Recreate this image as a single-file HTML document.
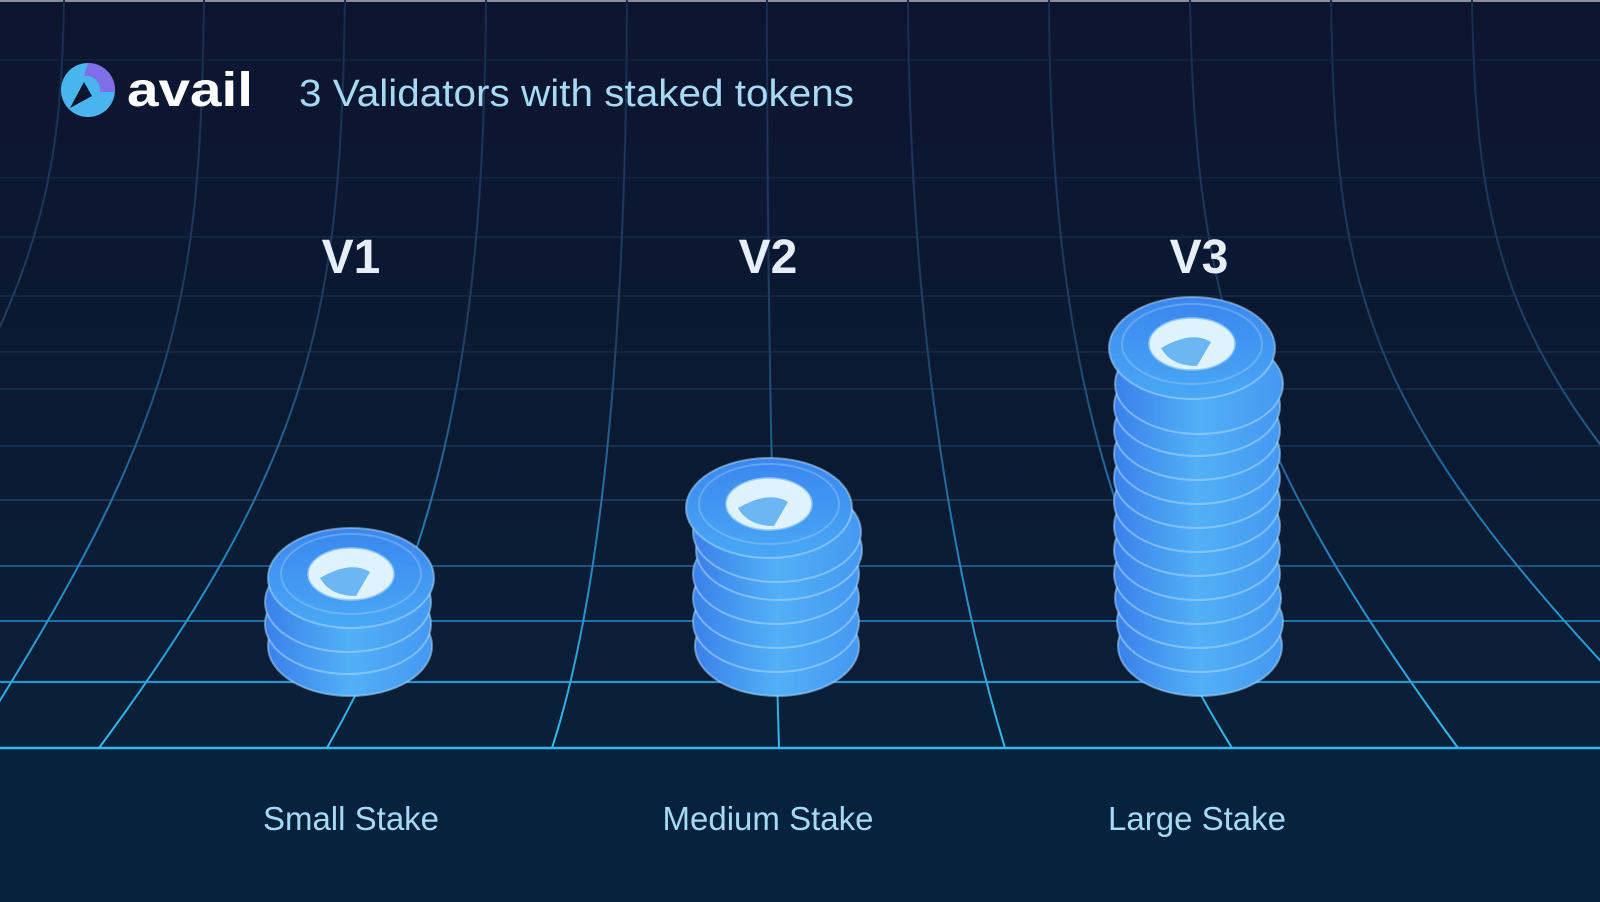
<!DOCTYPE html>
<html><head><meta charset="utf-8"><style>
html,body{margin:0;padding:0;background:#0c1630;}
svg{display:block}
</style></head><body>
<svg width="1600" height="902" viewBox="0 0 1600 902" xmlns="http://www.w3.org/2000/svg">
<defs>
<linearGradient id="bg" x1="0" y1="0" x2="0" y2="1">
<stop offset="0" stop-color="#0c1530"/><stop offset="0.5" stop-color="#0b1a33"/><stop offset="1" stop-color="#0a233d"/>
</linearGradient>
<linearGradient id="vl" gradientUnits="userSpaceOnUse" x1="0" y1="0" x2="0" y2="748">
<stop offset="0" stop-color="#1a2c48"/><stop offset="0.45" stop-color="#1d4166"/><stop offset="0.75" stop-color="#2384c0"/><stop offset="1" stop-color="#31bdf4"/>
</linearGradient>
<linearGradient id="side" x1="0" y1="0" x2="1" y2="0">
<stop offset="0" stop-color="#3a80ea"/><stop offset="0.5" stop-color="#52b0f6"/><stop offset="1" stop-color="#4598f2"/>
</linearGradient>
<linearGradient id="face" x1="0" y1="0" x2="0" y2="1">
<stop offset="0" stop-color="#3b86ee"/><stop offset="1" stop-color="#4aa8f5"/>
</linearGradient>
</defs>
<rect width="1600" height="902" fill="url(#bg)"/>
<rect y="748" width="1600" height="154" fill="#07223c"/>
<rect width="1600" height="2" fill="#8a8f99"/>
<g stroke-width="1.6" fill="none">
<line x1="0" y1="60" x2="1600" y2="60" stroke="#15233c"/>
<line x1="0" y1="178" x2="1600" y2="178" stroke="#152540"/>
<line x1="0" y1="237" x2="1600" y2="237" stroke="#162842"/>
<line x1="0" y1="296" x2="1600" y2="296" stroke="#172b46"/>
<line x1="0" y1="352" x2="1600" y2="352" stroke="#182e4a"/>
<line x1="0" y1="389" x2="1600" y2="389" stroke="#18304c"/>
<line x1="0" y1="446" x2="1600" y2="446" stroke="#1a3652"/>
<line x1="0" y1="500" x2="1600" y2="500" stroke="#1c4262"/>
<line x1="0" y1="566" x2="1600" y2="566" stroke="#1f5580" stroke-width="2"/>
<line x1="0" y1="621" x2="1600" y2="621" stroke="#2271a4" stroke-width="2"/>
<line x1="0" y1="682" x2="1600" y2="682" stroke="#2893cc" stroke-width="2.2"/>
<line x1="0" y1="748" x2="1600" y2="748" stroke="#31b8f0" stroke-width="2.5"/>
</g>
<g stroke="url(#vl)" stroke-width="2" fill="none">
<path d="M-70,0 C-70,300 -400,600 -580,748"/>
<path d="M64,0 C60,250 20,330 -250,748"/>
<path d="M204,0 C200,300 180,420 -30,748"/>
<path d="M345,0 C340,300 320,450 99,748"/>
<path d="M486,0 C484,350 440,550 327,748"/>
<path d="M627,0 C626,350 600,600 552,748"/>
<path d="M767,0 C767,350 775,600 779,748"/>
<path d="M908,0 C910,350 960,600 1005,748"/>
<path d="M1049,0 C1050,350 1110,550 1232,748"/>
<path d="M1190,0 C1195,300 1240,450 1458,748"/>
<path d="M1331,0 C1336,300 1360,420 1684,748"/>
<path d="M1472,0 C1476,250 1510,360 1700,560"/>
</g>
<!-- header -->
<g>
<circle cx="88" cy="90" r="27" fill="#4ab4ee"/>
<path d="M88,63 A27,27 0 0 1 115,92 L100,92 A14,14 0 0 0 84,76 Z" fill="#7f6ee8"/>
<path d="M70,108 L84,82 L92,96 Z" fill="#0c1630"/>
<text x="127" y="106" font-family="Liberation Sans, sans-serif" font-weight="bold" font-size="48" fill="#ffffff" textLength="126" lengthAdjust="spacingAndGlyphs">avail</text>
<text x="299" y="106" font-family="Liberation Sans, sans-serif" font-size="38" fill="#a6daf4" textLength="555" lengthAdjust="spacingAndGlyphs">3 Validators with staked tokens</text>
</g>
<g font-family="Liberation Sans, sans-serif" font-weight="bold" font-size="48" fill="#e6eef9" text-anchor="middle">
<text x="351" y="273">V1</text><text x="768" y="273">V2</text><text x="1199" y="273">V3</text>
</g>
<g font-family="Liberation Sans, sans-serif" font-size="33" fill="#a6daf4" text-anchor="middle">
<text x="351" y="830">Small Stake</text><text x="768" y="830">Medium Stake</text><text x="1197" y="830">Large Stake</text>
</g>
<!-- coin stacks -->
<g stroke="#a9d8fb" stroke-opacity="0.55" stroke-width="2">
<ellipse cx="350" cy="646" rx="82" ry="50" fill="url(#side)"/>
<ellipse cx="348" cy="624" rx="83" ry="50" fill="url(#side)"/>
<ellipse cx="348" cy="602" rx="83" ry="50" fill="url(#side)"/>
<ellipse cx="351" cy="578" rx="83" ry="50" fill="url(#face)"/>
<ellipse cx="351" cy="574" rx="70" ry="40" fill="none" stroke-opacity="0.35"/>
</g>
<g stroke="#a9d8fb" stroke-opacity="0.55" stroke-width="2">
<ellipse cx="777" cy="646" rx="82" ry="50" fill="url(#side)"/>
<ellipse cx="776" cy="622" rx="83" ry="50" fill="url(#side)"/>
<ellipse cx="776" cy="598" rx="83" ry="50" fill="url(#side)"/>
<ellipse cx="776" cy="574" rx="83" ry="50" fill="url(#side)"/>
<ellipse cx="779" cy="550" rx="83" ry="50" fill="url(#side)"/>
<ellipse cx="777" cy="532" rx="84" ry="50" fill="url(#side)"/>
<ellipse cx="769" cy="508" rx="83" ry="50" fill="url(#face)"/>
<ellipse cx="769" cy="504" rx="70" ry="40" fill="none" stroke-opacity="0.35"/>
</g>
<g stroke="#a9d8fb" stroke-opacity="0.55" stroke-width="2">
<ellipse cx="1200" cy="646" rx="82" ry="50" fill="url(#side)"/>
<ellipse cx="1200" cy="622" rx="83" ry="50" fill="url(#side)"/>
<ellipse cx="1198" cy="598" rx="83" ry="50" fill="url(#side)"/>
<ellipse cx="1197" cy="574" rx="83" ry="50" fill="url(#side)"/>
<ellipse cx="1197" cy="550" rx="83" ry="50" fill="url(#side)"/>
<ellipse cx="1197" cy="526" rx="83" ry="50" fill="url(#side)"/>
<ellipse cx="1197" cy="502" rx="83" ry="50" fill="url(#side)"/>
<ellipse cx="1197" cy="478" rx="83" ry="50" fill="url(#side)"/>
<ellipse cx="1197" cy="454" rx="83" ry="50" fill="url(#side)"/>
<ellipse cx="1197" cy="430" rx="83" ry="50" fill="url(#side)"/>
<ellipse cx="1197" cy="406" rx="83" ry="50" fill="url(#side)"/>
<ellipse cx="1199" cy="384" rx="84" ry="50" fill="url(#side)"/>
<ellipse cx="1192" cy="348" rx="83" ry="51" fill="url(#face)"/>
<ellipse cx="1192" cy="344" rx="70" ry="40" fill="none" stroke-opacity="0.35"/>
</g>
<!-- coin logos -->
<g fill="#dff3ff" stroke="#8fc8f5" stroke-width="1.5">
<ellipse cx="351" cy="574" rx="43" ry="26"/>
<path d="M320,578 Q351,560 370,572 L356,596 Q330,596 320,578Z" fill="#6cb6f3" stroke="none"/>
<ellipse cx="769" cy="504" rx="43" ry="26"/>
<path d="M738,508 Q769,490 788,502 L774,526 Q748,526 738,508Z" fill="#6cb6f3" stroke="none"/>
<ellipse cx="1192" cy="344" rx="43" ry="26"/>
<path d="M1161,348 Q1192,330 1211,342 L1197,366 Q1171,366 1161,348Z" fill="#6cb6f3" stroke="none"/>
</g>
</svg>
</body></html>
